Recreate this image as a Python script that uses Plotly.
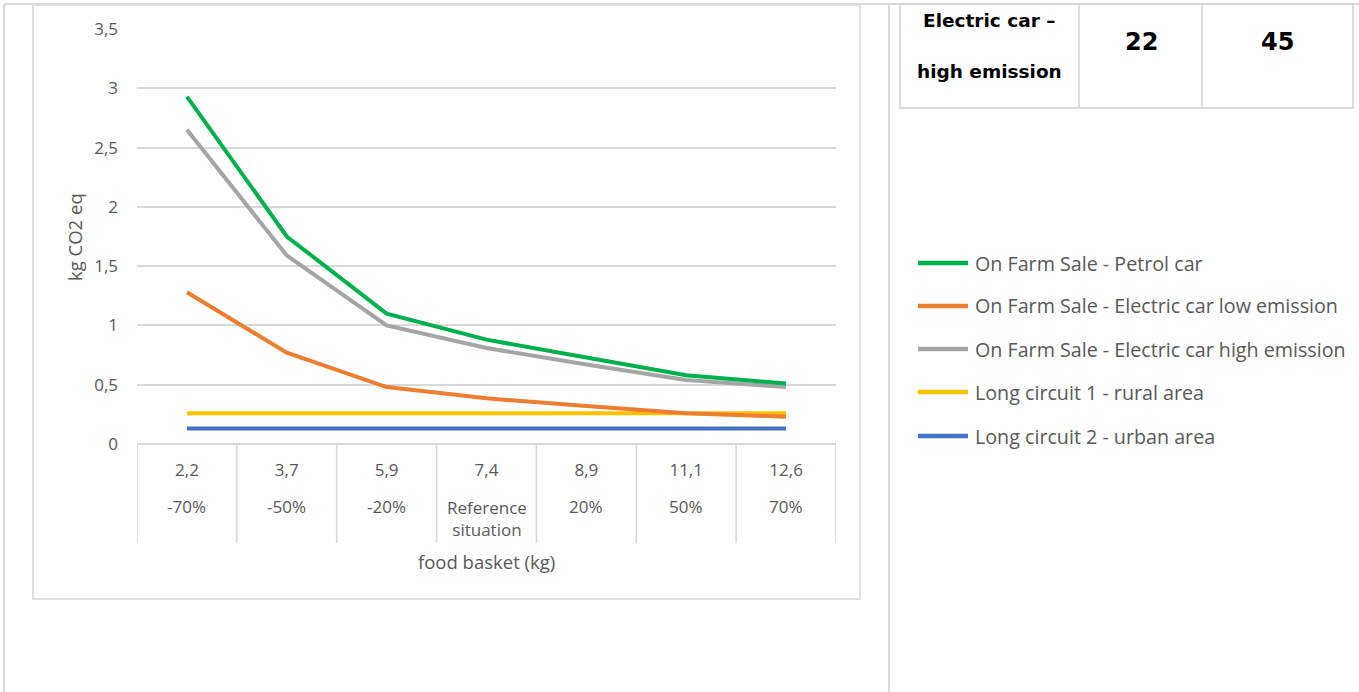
import plotly.graph_objects as go

# Food basket size (kg) and its change relative to the reference situation
basket_kg = ["2,2", "3,7", "5,9", "7,4", "8,9", "11,1", "12,6"]
basket_change = ["-70%", "-50%", "-20%", "Reference<br>situation", "20%", "50%", "70%"]

# Emissions per kg of food (kg CO2 eq)
petrol_car = [2.93, 1.75, 1.10, 0.88, 0.73, 0.58, 0.51]
electric_low = [1.28, 0.77, 0.48, 0.385, 0.32, 0.26, 0.23]
electric_high = [2.65, 1.59, 1.00, 0.81, 0.67, 0.54, 0.48]
long_rural = [0.26, 0.26, 0.26, 0.26, 0.26, 0.26, 0.26]
long_urban = [0.13, 0.13, 0.13, 0.13, 0.13, 0.13, 0.13]

series_names = [
    "On Farm Sale - Petrol car",
    "On Farm Sale - Electric car low emission",
    "On Farm Sale - Electric car high emission",
    "Long circuit 1 - rural area",
    "Long circuit 2 - urban area",
]
series_values = [petrol_car, electric_low, electric_high, long_rural, long_urban]
series_colors = ["#00B050", "#ED7D31", "#A5A5A5", "#FFC000", "#4472C4"]

# Table fragment shown beside the chart
table_label = ["Electric car –", "high emission"]
table_values = ["22", "45"]

W, H = 1359, 692
TEXT = "#595959"
GRID = "#D9D9D9"
FONT = "Open Sans"
BOLD_FONT = "DejaVu Sans"


def fx(px):
    return px / W


def fy(py):
    return 1 - py / H


fig = go.Figure()

# draw lines in reverse so the first series sits on top
for name, vals, col in reversed(list(zip(series_names, series_values, series_colors))):
    fig.add_trace(go.Scatter(
        x=basket_kg, y=vals, name=name, mode="lines",
        line=dict(color=col, width=4), showlegend=False,
    ))

shapes = []
annotations = []

# page frame lines
page_line = dict(color="#DADADA", width=2)
cell_line = dict(color="#D4D4D4", width=1.5)
shapes += [
    dict(type="line", xref="paper", yref="paper", x0=fx(4), x1=1, y0=fy(4), y1=fy(4), line=page_line, layer="below"),
    dict(type="line", xref="paper", yref="paper", x0=fx(4), x1=fx(4), y0=fy(4), y1=0, line=page_line, layer="below"),
    dict(type="line", xref="paper", yref="paper", x0=fx(889), x1=fx(889), y0=fy(4), y1=0, line=page_line, layer="below"),
    # chart area border
    dict(type="rect", xref="paper", yref="paper", x0=fx(33), x1=fx(860), y0=fy(5), y1=fy(599),
         line=dict(color="#D9D9D9", width=1.5), layer="below"),
    # table cells
    dict(type="rect", xref="paper", yref="paper", x0=fx(900), x1=fx(1353), y0=fy(4), y1=fy(108),
         line=cell_line, layer="below"),
    dict(type="line", xref="paper", yref="paper", x0=fx(1079), x1=fx(1079), y0=fy(4), y1=fy(108),
         line=cell_line, layer="below"),
    dict(type="line", xref="paper", yref="paper", x0=fx(1202), x1=fx(1202), y0=fy(4), y1=fy(108),
         line=cell_line, layer="below"),
]

# category dividers below the axis
for i in range(len(basket_kg) + 1):
    shapes.append(dict(type="line", xref="x", yref="paper", x0=i - 0.5, x1=i - 0.5,
                       y0=fy(543), y1=fy(444), line=dict(color=GRID, width=1.6), layer="below"))

# second level of category labels
for i, lab in enumerate(basket_change):
    annotations.append(dict(x=i, xref="x", y=fy(518 if "<br>" in lab else 507), yref="paper",
                            text=lab, showarrow=False, xanchor="center", yanchor="middle",
                            font=dict(family=FONT, size=17, color=TEXT)))

# axis titles
annotations.append(dict(x=fx(486), y=fy(561), xref="paper", yref="paper", text="food basket (kg)",
                        showarrow=False, xanchor="center", yanchor="middle",
                        font=dict(family=FONT, size=18.5, color=TEXT)))
annotations.append(dict(x=fx(75), y=fy(237), xref="paper", yref="paper", text="kg CO2 eq",
                        textangle=-90, showarrow=False, xanchor="center", yanchor="middle",
                        font=dict(family=FONT, size=18.5, color=TEXT)))

# legend
legend_rows = [263, 306, 349, 392, 436]
for name, col, ry in zip(series_names, series_colors, legend_rows):
    shapes.append(dict(type="line", xref="paper", yref="paper", x0=fx(918), x1=fx(968),
                       y0=fy(ry), y1=fy(ry), line=dict(color=col, width=4.5)))
    annotations.append(dict(x=fx(973), y=fy(ry), xref="paper", yref="paper", text=name,
                            showarrow=False, xanchor="left", yanchor="middle",
                            font=dict(family=FONT, size=19.7, color=TEXT)))

# table text
for txt, ty in zip(table_label, [20, 71]):
    annotations.append(dict(x=fx(989), y=fy(ty), xref="paper", yref="paper", text="<b>" + txt + "</b>",
                            showarrow=False, xanchor="center", yanchor="middle",
                            font=dict(family=BOLD_FONT, size=18.5, color="#000000")))
for cx, v in zip([1141, 1277], table_values):
    annotations.append(dict(x=fx(cx), y=fy(42), xref="paper", yref="paper", text="<b>" + v + "</b>",
                            showarrow=False, xanchor="center", yanchor="middle",
                            font=dict(family=BOLD_FONT, size=24, color="#000000")))

fig.update_layout(
    template="none",
    width=W, height=H,
    margin=dict(l=0, r=0, t=0, b=0, pad=0, autoexpand=False),
    paper_bgcolor="white", plot_bgcolor="white",
    separators=", ",
    showlegend=False,
    shapes=shapes,
    annotations=annotations,
    xaxis=dict(
        domain=[fx(137), fx(836)], type="category", range=[-0.5, 6.5],
        showgrid=False, showline=False, zeroline=False, ticks="", automargin=False,
        tickfont=dict(family=FONT, size=17, color=TEXT), ticklabelstandoff=14,
        fixedrange=True,
    ),
    yaxis=dict(
        domain=[fy(444), fy(29)], range=[0, 3.5], dtick=0.5, automargin=False,
        showgrid=True, gridcolor=GRID, gridwidth=2,
        zeroline=True, zerolinecolor=GRID, zerolinewidth=2,
        showline=False, ticks="",
        tickfont=dict(family=FONT, size=17, color=TEXT), ticklabelstandoff=18,
        fixedrange=True,
    ),
)

fig.write_html("out.html")
